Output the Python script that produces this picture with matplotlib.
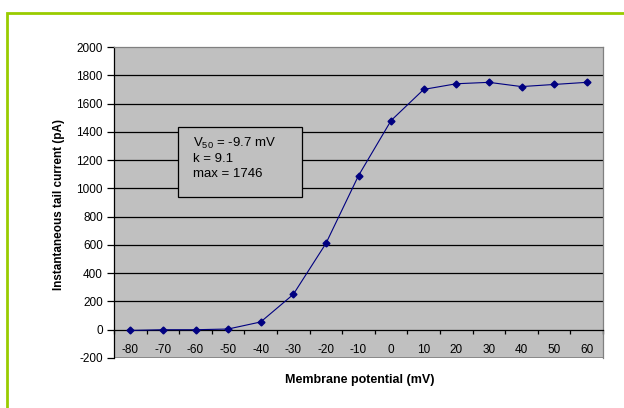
import matplotlib.pyplot as plt
import numpy as np
from matplotlib.patches import Rectangle

plt.rcParams['font.family'] = ['Liberation Sans', 'DejaVu Sans']

# data
potentials = [-80, -70, -60, -50, -40, -30, -20, -10, 0, 10, 20, 30, 40, 50, 60]
tail_current = [-5, 0, 0, 5, 55, 250, 610, 1090, 1480, 1700, 1740, 1750, 1720, 1735, 1750]
y_ticks = [-200, 0, 200, 400, 600, 800, 1000, 1200, 1400, 1600, 1800, 2000]

fig = plt.figure(figsize=(6.24, 4.08), dpi=100)
fig.patch.set_facecolor('white')

# green frame around the chart
fig.add_artist(Rectangle((7 / 624, -0.1), 1.2, (408 - 13) / 408 + 0.1,
                         transform=fig.transFigure, fill=False,
                         edgecolor='#99CC00', linewidth=2))

ax = fig.add_axes([114 / 624, 1 - 358 / 408, 489 / 624, 311 / 408])
ax.set_facecolor('#C0C0C0')

x_pos = np.arange(len(potentials))
ax.plot(x_pos, tail_current, '-D', color='#000080', linewidth=0.8,
        markersize=3.5, zorder=3)

ax.set_xlim(-0.5, len(potentials) - 0.5)
ax.set_ylim(-200, 2000)

# horizontal gridlines
for v in y_ticks[2:-1]:
    ax.axhline(v, color='black', linewidth=0.9, zorder=1)

ax.set_yticks(y_ticks)
ax.set_yticklabels([str(v) for v in y_ticks])
ax.tick_params(axis='y', direction='out', length=5, width=0.9,
               labelsize=8.5, pad=3)

# category axis crossing at zero
ax.spines['bottom'].set_position(('data', 0))
ax.spines['bottom'].set_linewidth(0.9)
ax.spines['left'].set_linewidth(0.9)
for s in ['top', 'right']:
    ax.spines[s].set_color('#808080')
    ax.spines[s].set_linewidth(0.9)
# bottom border of plot area
ax.axhline(-200, color='#808080', linewidth=1.2, zorder=2)

ax.set_xticks(np.arange(-0.5, len(potentials), 1.0))
ax.set_xticklabels([])
ax.tick_params(axis='x', which='major', direction='out', length=3, width=0.9)
ax.set_xticks(x_pos, minor=True)
ax.set_xticklabels([str(p) for p in potentials], minor=True)
ax.tick_params(axis='x', which='minor', length=0, labelsize=8.5, pad=10)

fig.text(59 / 624, 1 - 205 / 408, 'Instantaneous tail current (pA)',
         fontsize=8.5, fontweight='bold', rotation=90,
         ha='center', va='center')
fig.text(360 / 624, 1 - 380 / 408, 'Membrane potential (mV)', fontsize=9,
         fontweight='bold', ha='center', va='center')

# fit parameter box
ax.add_patch(Rectangle((0.131, 0.518), 0.253, 0.225, transform=ax.transAxes,
                       facecolor='#C0C0C0', edgecolor='black', linewidth=0.9,
                       zorder=4))
box_lines = [r'$\mathregular{V_{50}}$ = -9.7 mV', 'k = 9.1', 'max = 1746']
for i, line in enumerate(box_lines):
    ax.text(0.162, 0.69 - i * 0.049, line, transform=ax.transAxes,
            fontsize=9.5, va='center', ha='left', zorder=5)

fig.savefig('out.png', dpi=100)
